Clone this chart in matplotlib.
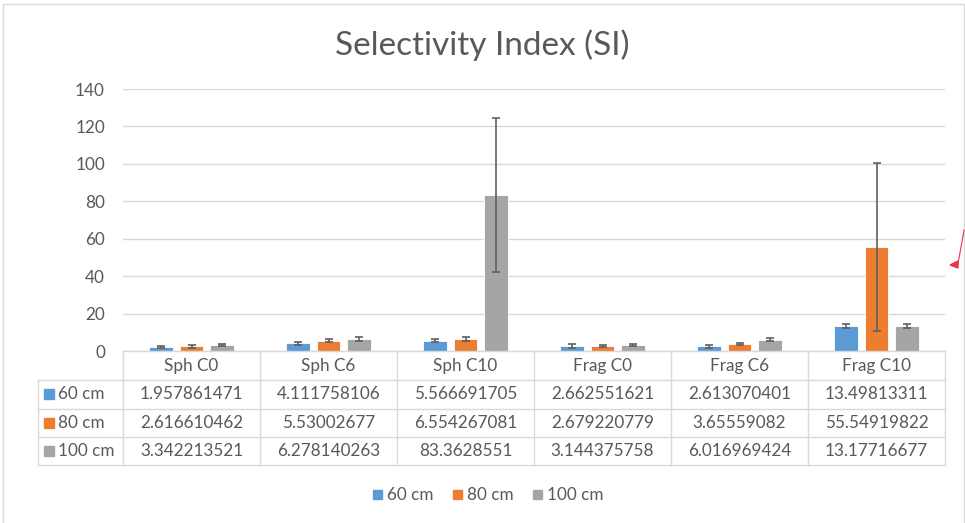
import matplotlib
matplotlib.use("Agg")
import matplotlib.pyplot as plt
import numpy as np
from matplotlib.transforms import blended_transform_factory
from matplotlib.patches import Rectangle, Polygon
from matplotlib.lines import Line2D

plt.rcParams['font.family'] = ['Lato', 'DejaVu Sans']

categories = ["Sph C0", "Sph C6", "Sph C10", "Frag C0", "Frag C6", "Frag C10"]
series_names = ["60 cm", "80 cm", "100 cm"]
si_60 = [1.957861471, 4.111758106, 5.566691705, 2.662551621, 2.613070401, 13.49813311]
si_80 = [2.616610462, 5.53002677, 6.554267081, 2.679220779, 3.65559082, 55.54919822]
si_100 = [3.342213521, 6.278140263, 83.3628551, 3.144375758, 6.016969424, 13.17716677]
err_60 = [0.5, 0.8, 0.9, 1.1, 0.8, 1.1]
err_80 = [0.8, 0.7, 1.1, 0.4, 0.7, 44.8]
err_100 = [0.5, 1.0, 41.0, 0.45, 0.8, 1.1]
y_ticks = [0, 20, 40, 60, 80, 100, 120, 140]

colors = ["#5B9BD5", "#ED7D31", "#A5A5A5"]
text_col = "#595959"
grid_col = "#D9D9D9"
fs = 12.3

W, H = 965, 523
fig = plt.figure(figsize=(W / 100, H / 100), dpi=100)

def fx(x):
    return x / W

def fy(y):
    return 1 - y / H

# Chart frame
fig.patches.append(Rectangle((fx(3), fy(530)), fx(961), fy(4) - fy(530),
                             transform=fig.transFigure, fill=False,
                             edgecolor=grid_col, lw=1.0))

ax = fig.add_axes([fx(123), fy(351), fx(945) - fx(123), fy(89) - fy(351)])
ax.set_xlim(-0.5, len(categories) - 0.5)
ax.set_ylim(0, 140)
for s in ax.spines.values():
    s.set_visible(False)
ax.set_yticks(y_ticks)
ax.set_yticklabels([str(v) for v in y_ticks])
ax.tick_params(axis='y', length=0, pad=13, labelsize=fs, labelcolor=text_col)
ax.set_xticks([])
ax.grid(axis='y', color=grid_col, lw=1.0)
ax.set_axisbelow(True)

x = np.arange(len(categories))
step = 0.223
width = 0.175
series = [si_60, si_80, si_100]
errs = [err_60, err_80, err_100]
for i, (vals, e, c) in enumerate(zip(series, errs, colors)):
    pos = x + (i - 1) * step
    ax.bar(pos, vals, width, color=c, edgecolor="white", linewidth=0.6, zorder=2)
    ax.errorbar(pos, vals, yerr=e, fmt='none', ecolor="#5F5F5F", elinewidth=1.2,
                capsize=3.2, capthick=1.2, zorder=3)

fig.text(0.5, fy(45), "Selectivity Index (SI)", ha='center', va='center',
         fontsize=24, color=text_col)

# Data table below the plot
tr = blended_transform_factory(ax.transData, fig.transFigure)
x_left = ax.transData.inverted().transform((38, 0))[0]
x0, x1 = -0.5, len(categories) - 0.5
row_y = [351, 380, 408.5, 437, 465]

def hline(xa, xb, y):
    fig.add_artist(Line2D([xa, xb], [fy(y), fy(y)], transform=tr,
                          color=grid_col, lw=1.0))

def vline(xv, ya, yb):
    fig.add_artist(Line2D([xv, xv], [fy(ya), fy(yb)], transform=tr,
                          color=grid_col, lw=1.0))

hline(x0, x1, row_y[0])
for y in row_y[1:]:
    hline(x_left, x1, y)
for k in range(len(categories) + 1):
    vline(x0 + k, row_y[0], row_y[-1])
vline(x_left, row_y[1], row_y[-1])

for k, cat in enumerate(categories):
    fig.text(k, fy((row_y[0] + row_y[1]) / 2), cat, transform=tr,
             ha='center', va='center', fontsize=fs, color=text_col)

for r, (name, vals, c) in enumerate(zip(series_names, series, colors)):
    yc = fy((row_y[r + 1] + row_y[r + 2]) / 2)
    fig.patches.append(Rectangle((fx(44), yc - 5 / H), fx(10), 10 / H,
                                 transform=fig.transFigure, color=c))
    fig.text(fx(58), yc, name, ha='left', va='center', fontsize=fs, color=text_col)
    for k, v in enumerate(vals):
        fig.text(k, yc, str(v), transform=tr, ha='center', va='center',
                 fontsize=fs, color=text_col)

# Legend
leg_items = [(373, "60 cm"), (453, "80 cm"), (533, "100 cm")]
for (lx, name), c in zip(leg_items, colors):
    fig.patches.append(Rectangle((fx(lx), fy(499)), fx(9), 9 / H,
                                 transform=fig.transFigure, color=c))
    fig.text(fx(lx + 14), fy(494.5), name, ha='left', va='center',
             fontsize=fs, color=text_col)

# Red pointer at the right edge
red = "#E8344A"
fig.add_artist(Line2D([fx(964), fx(958)], [fy(230), fy(264)],
                      transform=fig.transFigure, color=red, lw=0.8))
fig.patches.append(Polygon([(fx(950), fy(265)), (fx(958), fy(261)), (fx(958), fy(268))],
                           closed=True, transform=fig.transFigure, color=red))

fig.savefig("out.png", dpi=100)
